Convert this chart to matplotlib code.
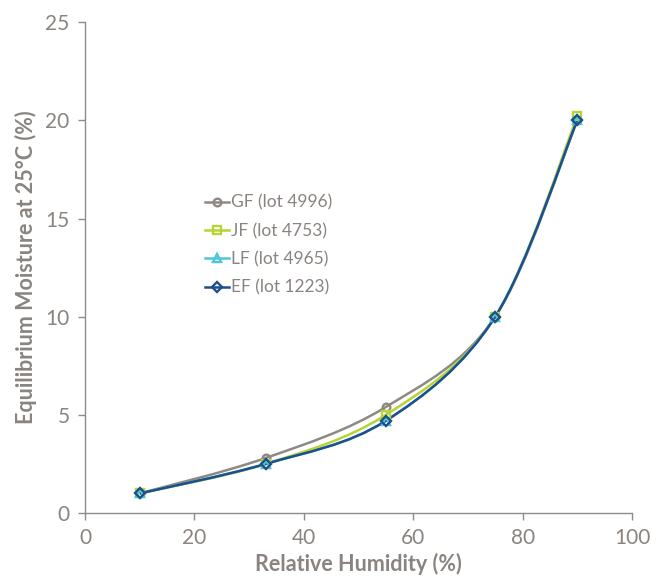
import numpy as np
import matplotlib.pyplot as plt
from matplotlib.path import Path
from matplotlib.patches import PathPatch
from matplotlib.lines import Line2D

plt.rcParams['font.family'] = ['Lato', 'DejaVu Sans']

# Данные
humidity = [10, 33, 55, 75, 90]
gf = [1.0, 2.8, 5.4, 10.0, 20.0]
jf = [1.0, 2.5, 5.0, 10.0, 20.2]
lf = [1.0, 2.5, 4.7, 10.0, 20.0]
ef = [1.0, 2.5, 4.7, 10.0, 20.0]

labels = ['GF (lot 4996)', 'JF (lot 4753)', 'LF (lot 4965)', 'EF (lot 1223)']
colors = ['#8e8984', '#b7d435', '#4ec6d9', '#1f4f8b']
markers = ['o', 's', '^', 'D']
series = [gf, jf, lf, ef]

text_color = '#8a8480'


def smooth_path(x, y):
    # сглаживание как в Excel (кривые Безье)
    pts = np.column_stack([x, y]).astype(float)
    n = len(pts)
    verts = [pts[0]]
    codes = [Path.MOVETO]
    for i in range(n - 1):
        p0 = pts[i - 1] if i > 0 else pts[i]
        p1 = pts[i]
        p2 = pts[i + 1]
        p3 = pts[i + 2] if i + 2 < n else pts[i + 1]
        c1 = p1 + (p2 - p0) / 6
        c2 = p2 - (p3 - p1) / 6
        verts += [c1, c2, p2]
        codes += [Path.CURVE4] * 3
    return Path(verts, codes)


fig = plt.figure(figsize=(6.59, 5.83), dpi=100)
ax = fig.add_axes([0.129, 0.12, 0.830, 0.842])

handles = []
for vals, lab, col, mk in zip(series, labels, colors, markers):
    patch = PathPatch(smooth_path(humidity, vals), facecolor='none',
                      edgecolor=col, lw=1.8, zorder=2)
    ax.add_patch(patch)
    ax.plot(humidity, vals, linestyle='none', marker=mk, markersize=5.5,
            markerfacecolor='none', markeredgecolor=col, markeredgewidth=1.7,
            zorder=3)
    handles.append(Line2D([], [], color=col, lw=1.8, marker=mk, markersize=5.5,
                          markerfacecolor='none', markeredgecolor=col,
                          markeredgewidth=1.7))

ax.set_xlim(0, 100)
ax.set_ylim(0, 25)
ax.set_xticks(np.arange(0, 101, 20))
ax.set_yticks(np.arange(0, 26, 5))

for s in ['top', 'right']:
    ax.spines[s].set_visible(False)
for s in ['left', 'bottom']:
    ax.spines[s].set_color('#8c8c8c')
    ax.spines[s].set_linewidth(1.0)
ax.tick_params(colors='#8c8c8c', labelcolor=text_color, labelsize=15,
               length=5, width=1.0, direction='out', pad=6)

ax.set_xlabel('Relative Humidity (%)', fontsize=15.5, fontweight='bold',
              color=text_color, labelpad=3)
ax.set_ylabel('Equilibrium Moisture at 25°C (%)', fontsize=15.5,
              fontweight='bold', color=text_color, labelpad=6)

leg = ax.legend(handles, labels, loc='upper left',
                bbox_to_anchor=(0.204, 0.666), frameon=False, fontsize=12.5,
                borderpad=0, handlelength=1.35, handletextpad=0.15,
                labelspacing=0.7, labelcolor=text_color)

fig.savefig('out.png', dpi=100)
